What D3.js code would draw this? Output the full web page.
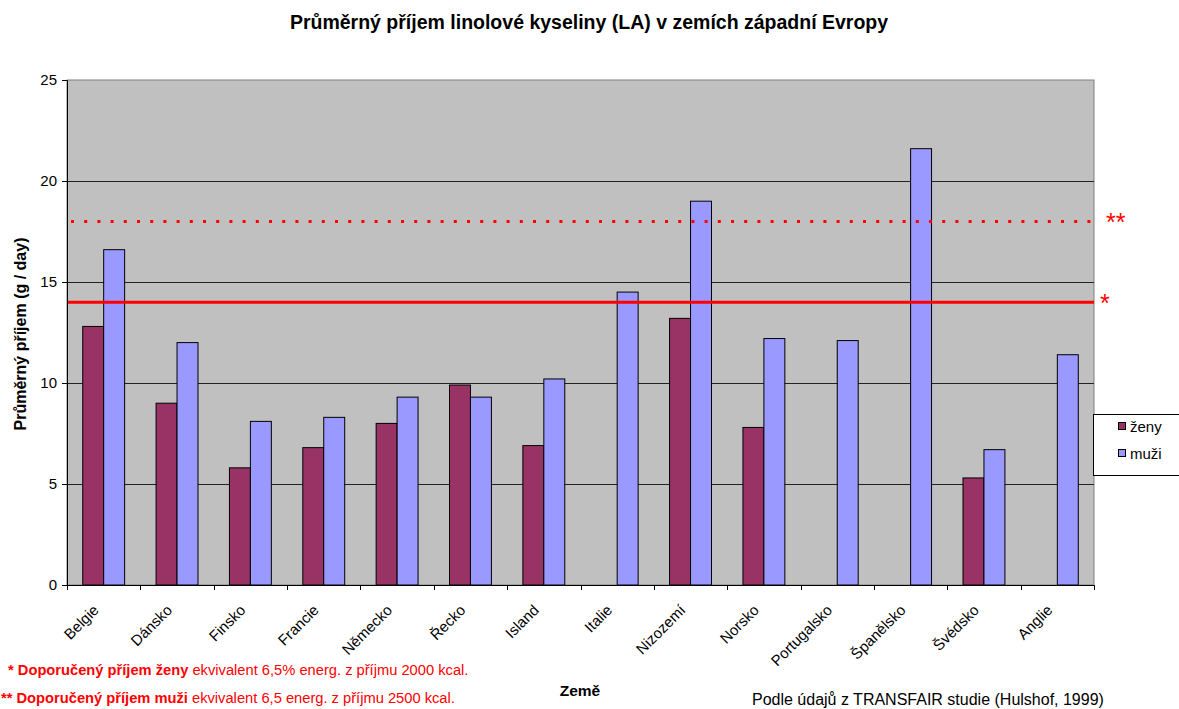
<!DOCTYPE html>
<html>
<head>
<meta charset="utf-8">
<script src="https://cdn.jsdelivr.net/npm/d3@7"></script>
<style>
  html, body { margin: 0; padding: 0; background: #fff; }
  svg { display: block; font-family: "Liberation Sans", Arial, sans-serif; }
</style>
</head>
<body>
<svg id="chart" width="1179" height="709"></svg>
<script>
// Average linoleic acid intake per country (g / day)
const countries = ["Belgie", "Dánsko", "Finsko", "Francie", "Německo", "Řecko", "Island",
  "Italie", "Nizozemí", "Norsko", "Portugalsko", "Španělsko", "Švédsko", "Anglie"];
const zeny = [12.8, 9.0, 5.8, 6.8, 8.0, 9.9, 6.9, null, 13.2, 7.8, null, null, 5.3, null];
const muzi = [16.6, 12.0, 8.1, 8.3, 9.3, 9.3, 10.2, 14.5, 19.0, 12.2, 12.1, 21.6, 6.7, 11.4];
const seriesNames = ["ženy", "muži"];
const seriesColors = ["#993366", "#9999FF"];
const yTicks = [0, 5, 10, 15, 20, 25];
// Recommended intake: women (*) and men (**)
const recWomen = 14;
const recMen = 18;

const svg = d3.select("#chart");
const plot = { left: 67, right: 1094, top: 80, bottom: 585 };

const x = d3.scaleBand().domain(countries).range([plot.left, plot.right]).padding(0);
const y = d3.scaleLinear().domain([0, 25]).range([plot.bottom, plot.top]);
const bw = x.bandwidth();
const barW = bw / 3.5;
const inner = d3.scaleBand().domain(seriesNames)
  .range([barW * 0.75, barW * 2.75]).padding(0);

// Title
svg.append("text")
  .attr("x", 589).attr("y", 29)
  .attr("text-anchor", "middle")
  .attr("font-size", 19.5).attr("font-weight", "bold")
  .text("Průměrný příjem linolové kyseliny (LA) v zemích západní Evropy");

// Plot background
svg.append("rect")
  .attr("x", plot.left).attr("y", plot.top)
  .attr("width", plot.right - plot.left).attr("height", plot.bottom - plot.top)
  .attr("fill", "#C0C0C0").attr("stroke", "#808080").attr("stroke-width", 1);

// Horizontal gridlines
svg.append("g").selectAll("line")
  .data(yTicks.filter(d => d > 0 && d < 25))
  .join("line")
  .attr("x1", plot.left).attr("x2", plot.right)
  .attr("y1", d => Math.round(y(d)) + 0.5).attr("y2", d => Math.round(y(d)) + 0.5)
  .attr("stroke", "#222").attr("stroke-width", 1);

// Bars
const rows = countries.map((c, i) => ({ c, vals: [zeny[i], muzi[i]] }));
const groups = svg.append("g").selectAll("g")
  .data(rows).join("g")
  .attr("transform", d => `translate(${x(d.c)},0)`);
groups.selectAll("rect")
  .data(d => d.vals.map((v, j) => ({ v, s: seriesNames[j], color: seriesColors[j] })).filter(e => e.v != null))
  .join("rect")
  .attr("x", d => inner(d.s))
  .attr("width", inner.bandwidth())
  .attr("y", d => y(d.v))
  .attr("height", d => y(0) - y(d.v))
  .attr("fill", d => d.color)
  .attr("stroke", "#000").attr("stroke-width", 1);

// Recommended intake lines
svg.append("line")
  .attr("x1", plot.left).attr("x2", plot.right)
  .attr("y1", y(recWomen)).attr("y2", y(recWomen))
  .attr("stroke", "#FF0000").attr("stroke-width", 3);
svg.append("line")
  .attr("x1", plot.left + 4).attr("x2", plot.right)
  .attr("y1", y(recMen)).attr("y2", y(recMen))
  .attr("stroke", "#FF0000").attr("stroke-width", 3)
  .attr("stroke-dasharray", "3,10.2");
svg.append("text")
  .attr("x", plot.right + 12).attr("y", y(recMen) + 10)
  .attr("fill", "#FF0000").attr("font-size", 25)
  .text("**");
svg.append("text")
  .attr("x", plot.right + 6).attr("y", y(recWomen) + 10)
  .attr("fill", "#FF0000").attr("font-size", 25)
  .text("*");

// Y axis
const yAxis = svg.append("g")
  .attr("transform", `translate(${plot.left},0)`)
  .call(d3.axisLeft(y).tickValues(yTicks).tickSize(5).tickPadding(5).tickFormat(d3.format("d")));
yAxis.select(".domain").attr("stroke", "#000");
yAxis.selectAll(".tick line").attr("stroke", "#000");
yAxis.selectAll("text").attr("font-size", 15).attr("fill", "#000")
  .attr("font-family", "Liberation Sans, Arial, sans-serif");

// X axis
const xAxis = svg.append("g")
  .attr("transform", `translate(0,${plot.bottom})`);
xAxis.append("line")
  .attr("x1", plot.left).attr("x2", plot.right)
  .attr("y1", 0.5).attr("y2", 0.5).attr("stroke", "#000");
xAxis.selectAll("line.tk")
  .data(countries.concat(["__end"]))
  .join("line").attr("class", "tk")
  .attr("x1", (d, i) => Math.round(plot.left + i * bw) + 0.5)
  .attr("x2", (d, i) => Math.round(plot.left + i * bw) + 0.5)
  .attr("y1", 0).attr("y2", 5).attr("stroke", "#000");
xAxis.selectAll("text")
  .data(countries).join("text")
  .attr("transform", d => `translate(${x(d) + bw / 2 - 4},${26}) rotate(-45)`)
  .attr("text-anchor", "end")
  .attr("font-size", 15)
  .text(d => d);

// Axis titles
svg.append("text")
  .attr("transform", "translate(26,334) rotate(-90)")
  .attr("text-anchor", "middle")
  .attr("font-size", 16).attr("font-weight", "bold")
  .text("Průměrný příjem (g / day)");
svg.append("text")
  .attr("x", 580).attr("y", 696)
  .attr("text-anchor", "middle")
  .attr("font-size", 15.5).attr("font-weight", "bold")
  .text("Země");

// Legend
const legend = svg.append("g").attr("transform", "translate(1093,414)");
legend.append("rect")
  .attr("x", 0.5).attr("y", 0.5).attr("width", 100).attr("height", 61)
  .attr("fill", "#fff").attr("stroke", "#000").attr("stroke-width", 1);
seriesNames.forEach((s, i) => {
  legend.append("rect")
    .attr("x", 25.5).attr("y", 8.5 + i * 27).attr("width", 7).attr("height", 7)
    .attr("fill", seriesColors[i]).attr("stroke", "#000").attr("stroke-width", 1);
  legend.append("text")
    .attr("x", 37).attr("y", 17.5 + i * 27)
    .attr("font-size", 15)
    .text(s);
});

// Footnotes
const fn1 = svg.append("text").attr("x", 8).attr("y", 675)
  .attr("font-size", 14.7).attr("fill", "#FF0000");
fn1.append("tspan").attr("font-weight", "bold").text("* Doporučený příjem ženy");
fn1.append("tspan").text(" ekvivalent 6,5% energ. z příjmu 2000 kcal.");
const fn2 = svg.append("text").attr("x", 1).attr("y", 703)
  .attr("font-size", 14.7).attr("fill", "#FF0000");
fn2.append("tspan").attr("font-weight", "bold").text("** Doporučený příjem muži");
fn2.append("tspan").text(" ekvivalent 6,5 energ. z příjmu 2500 kcal.");

svg.append("text")
  .attr("x", 752).attr("y", 705)
  .attr("font-size", 16)
  .text("Podle údajů z TRANSFAIR studie (Hulshof, 1999)");
</script>
</body>
</html>
